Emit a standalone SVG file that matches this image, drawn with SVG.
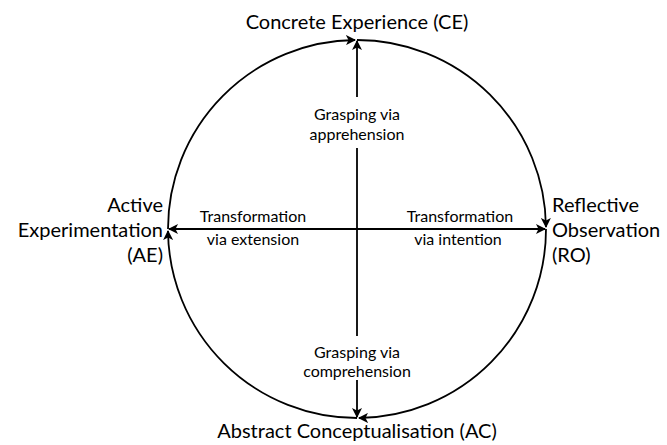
<svg xmlns="http://www.w3.org/2000/svg" width="667" height="445" viewBox="0 0 667 445">
<defs>
<marker id="ah" viewBox="0 0 10 10" refX="9" refY="5" markerWidth="10" markerHeight="10" markerUnits="userSpaceOnUse" orient="auto">
<path d="M0,0 L10,5 L0,10 L2.5,5 z" fill="#000"/>
</marker>
</defs>
<style>
.ln{fill:none;stroke:#000;stroke-width:1.8}
.big{font-family:Lato,"Liberation Sans",sans-serif;font-size:20px;fill:#000}
.sm{font-family:Lato,"Liberation Sans",sans-serif;font-size:16px;fill:#000;text-anchor:middle}
</style>
<rect width="667" height="445" fill="#fff"/>
<g id="connectors">
<path class="ln" marker-end="url(#ah)" d="M168,229 A189,189 0 0 1 355,40"/>
<path class="ln" marker-end="url(#ah)" d="M357,40 A189,189 0 0 1 546,227"/>
<path class="ln" marker-end="url(#ah)" d="M546,229 A189,189 0 0 1 359,418"/>
<path class="ln" marker-end="url(#ah)" d="M357,418 A189,189 0 0 1 168,231"/>
<line class="ln" x1="357" y1="97" x2="357" y2="41" marker-end="url(#ah)"/>
<line class="ln" x1="357" y1="148" x2="357" y2="336"/>
<line class="ln" x1="357" y1="380" x2="357" y2="417" marker-end="url(#ah)"/>
<line class="ln" x1="357" y1="229" x2="169" y2="229" marker-end="url(#ah)"/>
<line class="ln" x1="357" y1="229" x2="545" y2="229" marker-end="url(#ah)"/>
</g>
<g id="CE"><text class="big" x="357" y="29" text-anchor="middle">Concrete Experience (CE)</text></g>
<g id="AE"><text class="big" text-anchor="end"><tspan x="163" y="212">Active</tspan><tspan x="163" y="237">Experimentation</tspan><tspan x="163" y="262">(AE)</tspan></text></g>
<g id="RO"><text class="big" text-anchor="start"><tspan x="552" y="212">Reflective</tspan><tspan x="552" y="237">Observation</tspan><tspan x="552" y="262">(RO)</tspan></text></g>
<g id="AC"><text class="big" x="357" y="438" text-anchor="middle">Abstract Conceptualisation (AC)</text></g>
<g id="labels">
<text class="sm"><tspan x="253" y="222">Transformation</tspan><tspan x="253" y="245">via extension</tspan></text>
<text class="sm"><tspan x="460" y="222">Transformation</tspan><tspan x="458" y="245">via intention</tspan></text>
<text class="sm"><tspan x="357" y="120">Grasping via</tspan><tspan x="357" y="140">apprehension</tspan></text>
<text class="sm"><tspan x="357" y="358">Grasping via</tspan><tspan x="357" y="377">comprehension</tspan></text>
</g>
</svg>
